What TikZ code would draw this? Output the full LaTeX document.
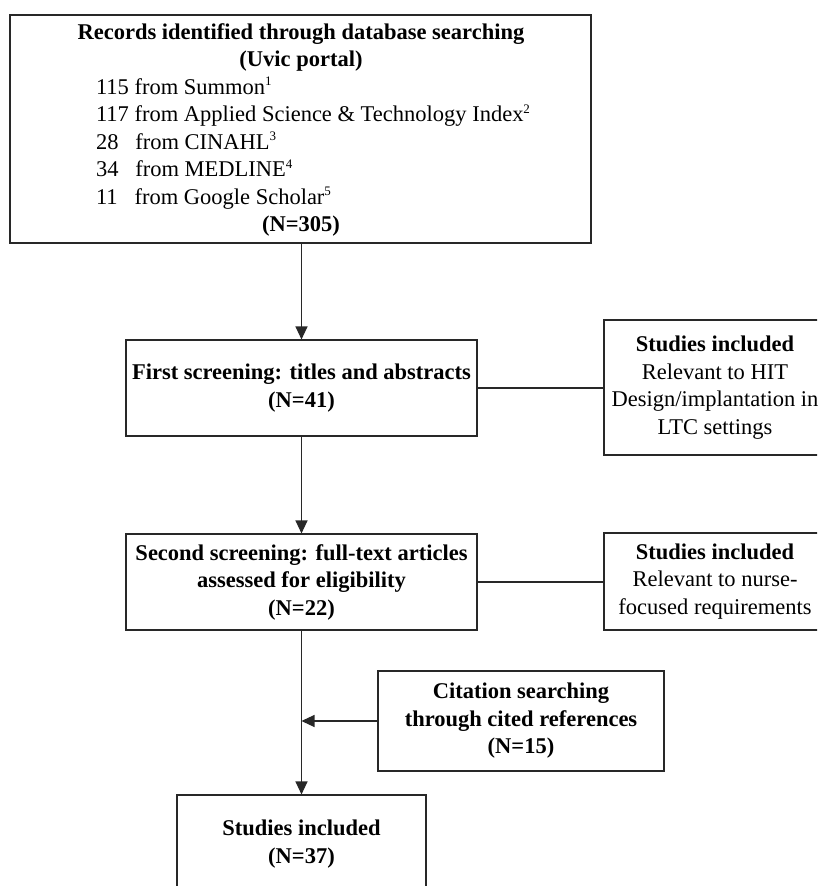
\documentclass[tikz,border=0pt]{standalone}
\usepackage{fontspec}
\setmainfont{Liberation Serif}
\usetikzlibrary{arrows.meta}

\definecolor{linecol}{RGB}{40,40,40}
\newcommand\srcline[1]{\makebox[410pt][l]{#1}}
\newcommand\headline[1]{\makebox[410pt][c]{\bfseries #1}}
\newcommand\fnmark[1]{\raisebox{8.5pt}{\fontsize{13}{13}\selectfont #1}}

\tikzset{
  box/.style={draw=linecol, line width=1.1pt, rectangle, inner sep=0pt,
    align=center, font=\fontsize{22.5}{27.5}\selectfont},
  boldbox/.style={box, font=\fontsize{22.5}{27.5}\selectfont\bfseries},
  flow/.style={draw=linecol, line width=1.1pt, -{Triangle[length=13pt,width=12pt]}},
  link/.style={draw=linecol, line width=1.1pt}
}

\begin{document}
\begin{tikzpicture}[x=1pt,y=-1pt]
  \path[use as bounding box] (0,0) rectangle (817,886);
  \clip (0,0) rectangle (817,886);
  \fill[white] (0,0) rectangle (817,886);

  % database search box
  \node[box, minimum width=581pt, minimum height=228pt] (rec) at (300.5,129) {};
  \node[inner sep=0pt, align=left, font=\fontsize{22.5}{27.5}\selectfont] (rectext) at (301,130)
    {\headline{Records identified through database searching}\\
     \headline{(Uvic portal)}\\
     \srcline{115 from Summon\fnmark{1}}\\
     \srcline{117 from Applied Science \& Technology Index\fnmark{2}}\\
     \srcline{28\hspace{0.5em} from CINAHL\fnmark{3}}\\
     \srcline{34\hspace{0.5em} from MEDLINE\fnmark{4}}\\
     \srcline{11\hspace{0.5em} from Google Scholar\fnmark{5}}\\
     \headline{(N=305)}};

  % screening stages
  \node[boldbox, minimum width=351pt, minimum height=96pt] (first) at (301.5,388)
    {First screening: titles and abstracts\\(N=41)};
  \node[boldbox, minimum width=351pt, minimum height=96pt] (second) at (301.5,582)
    {Second screening: full-text articles\\assessed for eligibility\\(N=22)};

  % side boxes
  \node[box, minimum width=222pt, minimum height=135pt] (inc1) at (715,387.5)
    {\textbf{Studies included}\\Relevant to HIT\\Design/implantation in\\LTC settings};
  \node[box, minimum width=222pt, minimum height=97pt] (inc2) at (715,581.5)
    {\textbf{Studies included}\\Relevant to nurse-\\focused requirements};

  % citation search and result
  \node[boldbox, minimum width=286pt, minimum height=100pt] (cite) at (521,721)
    {Citation searching\\through cited references\\(N=15)};
  \node[boldbox, minimum width=249pt, minimum height=98pt] (final) at (301.5,844)
    {Studies included\\(N=37)};

  % connectors
  \draw[flow] (first.north |- rec.south) -- (first.north);
  \draw[flow] (first.south) -- (second.north);
  \draw[flow] (second.south) -- (final.north);
  \draw[link] (first.east) -- (inc1.west |- first.east);
  \draw[link] (second.east) -- (inc2.west |- second.east);
  \coordinate (join) at (cite.west -| second.south);
  \draw[flow] (cite.west) -- (join);
\end{tikzpicture}
\end{document}
